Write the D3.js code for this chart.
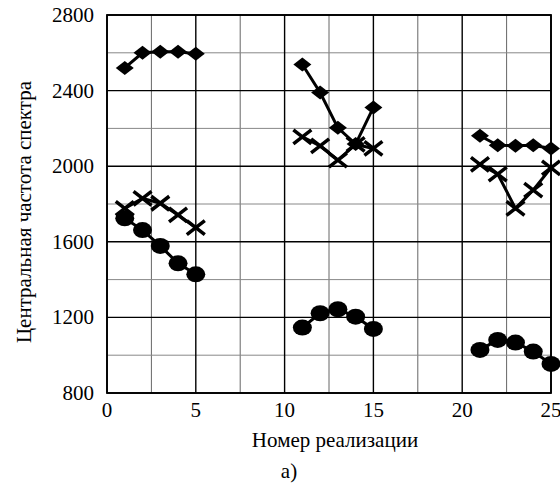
<!DOCTYPE html>
<html><head><meta charset="utf-8"><script src="https://d3js.org/d3.v7.min.js"></script></head>
<body style="margin:0">
<div id="c"></div>
<script>
    // realization numbers, three groups of five
    var realizations = [[1, 2, 3, 4, 5], [11, 12, 13, 14, 15], [21, 22, 23, 24, 25]];
    var diamondValues = [[2520, 2600, 2605, 2605, 2595], [2538, 2390, 2203, 2117, 2311], [2161, 2111, 2108, 2111, 2094]];
    var crossValues = [[1777, 1830, 1804, 1742, 1675], [2155, 2108, 2032, 2115, 2094], [2010, 1958, 1777, 1874, 1991]];
    var circleValues = [[1724, 1662, 1578, 1486, 1428], [1146, 1222, 1243, 1204, 1139], [1028, 1081, 1067, 1019, 954]];

    var xTicks = [0, 5, 10, 15, 20, 25];
    var xMinor = [2.5, 7.5, 12.5, 17.5, 22.5];
    var yTicks = [800, 1200, 1600, 2000, 2400, 2800];
    var yMinor = [1000, 1400, 1800, 2200, 2600];

    var width = 560, height = 486;
    var margin = { left: 107, right: 9, top: 15, bottom: 93 };

    var svg = d3.select("#c").append("svg").attr("width", width).attr("height", height);

    var x = d3.scaleLinear().domain([0, 25]).range([margin.left, width - margin.right]);
    var y = d3.scaleLinear().domain([800, 2800]).range([height - margin.bottom, margin.top]);

    function label(sel) {
      return sel.attr("font-family", "Liberation Serif")
        .attr("font-size", 21)
        .style("font-family", "'Liberation Serif', 'Times New Roman', serif");
    }

    var grid = svg.append("g");
    grid.selectAll(".vminor").data(xMinor).enter().append("line")
      .attr("x1", d => x(d)).attr("x2", d => x(d))
      .attr("y1", y(800)).attr("y2", y(2800))
      .attr("stroke", "#666").attr("stroke-width", 1);
    grid.selectAll(".hminor").data(yMinor).enter().append("line")
      .attr("y1", d => y(d)).attr("y2", d => y(d))
      .attr("x1", x(0)).attr("x2", x(25))
      .attr("stroke", "#888").attr("stroke-width", 1);
    grid.selectAll(".vmajor").data(xTicks).enter().append("line")
      .attr("x1", d => x(d)).attr("x2", d => x(d))
      .attr("y1", y(800)).attr("y2", y(2800))
      .attr("stroke", "#000").attr("stroke-width", 1.4);
    grid.selectAll(".hmajor").data(yTicks).enter().append("line")
      .attr("y1", d => y(d)).attr("y2", d => y(d))
      .attr("x1", x(0)).attr("x2", x(25))
      .attr("stroke", "#000").attr("stroke-width", 1.4);

    svg.append("rect")
      .attr("x", x(0)).attr("y", y(2800))
      .attr("width", x(25) - x(0)).attr("height", y(800) - y(2800))
      .attr("fill", "none").attr("stroke", "#000").attr("stroke-width", 1.8);

    svg.selectAll(".ylab").data(yTicks).enter().append("text")
      .attr("x", x(0) - 13)
      .attr("y", d => y(d) + 7)
      .attr("text-anchor", "end")
      .call(label)
      .text(d => d);

    svg.selectAll(".xlab").data(xTicks).enter().append("text")
      .attr("x", d => x(d))
      .attr("y", 417)
      .attr("text-anchor", "middle")
      .call(label)
      .text(d => d);

    svg.append("text")
      .attr("x", 335).attr("y", 447)
      .attr("text-anchor", "middle")
      .call(label)
      .text("Номер реализации");

    svg.append("text")
      .attr("x", 289).attr("y", 478)
      .attr("text-anchor", "middle")
      .call(label)
      .text("а)");

    svg.append("text")
      .attr("transform", "translate(31,212) rotate(-90)")
      .attr("text-anchor", "middle")
      .call(label)
      .text("Центральная частота спектра");

    var line = d3.line().x(d => x(d[0])).y(d => y(d[1]));

    function pairs(values) {
      return realizations.map((xs, i) => xs.map((r, j) => [r, values[i][j]]));
    }

    var series = [
      { kind: "diamond", data: pairs(diamondValues) },
      { kind: "cross", data: pairs(crossValues) },
      { kind: "circle", data: pairs(circleValues) }
    ];

    var plot = svg.append("g");

    series.forEach(s => {
      plot.selectAll(null).data(s.data).enter().append("path")
        .attr("d", line)
        .attr("fill", "none")
        .attr("stroke", "#000")
        .attr("stroke-width", 3);
    });

    series.forEach(s => {
      var g = plot.selectAll(null).data(s.data.flat()).enter().append("g")
        .attr("transform", d => "translate(" + x(d[0]) + "," + y(d[1]) + ")");
      if (s.kind === "diamond") {
        g.append("path").attr("d", "M-9,0L0,-7L9,0L0,7Z").attr("fill", "#000");
      } else if (s.kind === "circle") {
        g.append("ellipse").attr("rx", 9.5).attr("ry", 8).attr("fill", "#000");
      } else {
        g.append("path").attr("d", "M-9,-7L9,7M-9,7L9,-7")
          .attr("stroke", "#000").attr("stroke-width", 3.5).attr("fill", "none");
      }
    });
</script></body></html>
